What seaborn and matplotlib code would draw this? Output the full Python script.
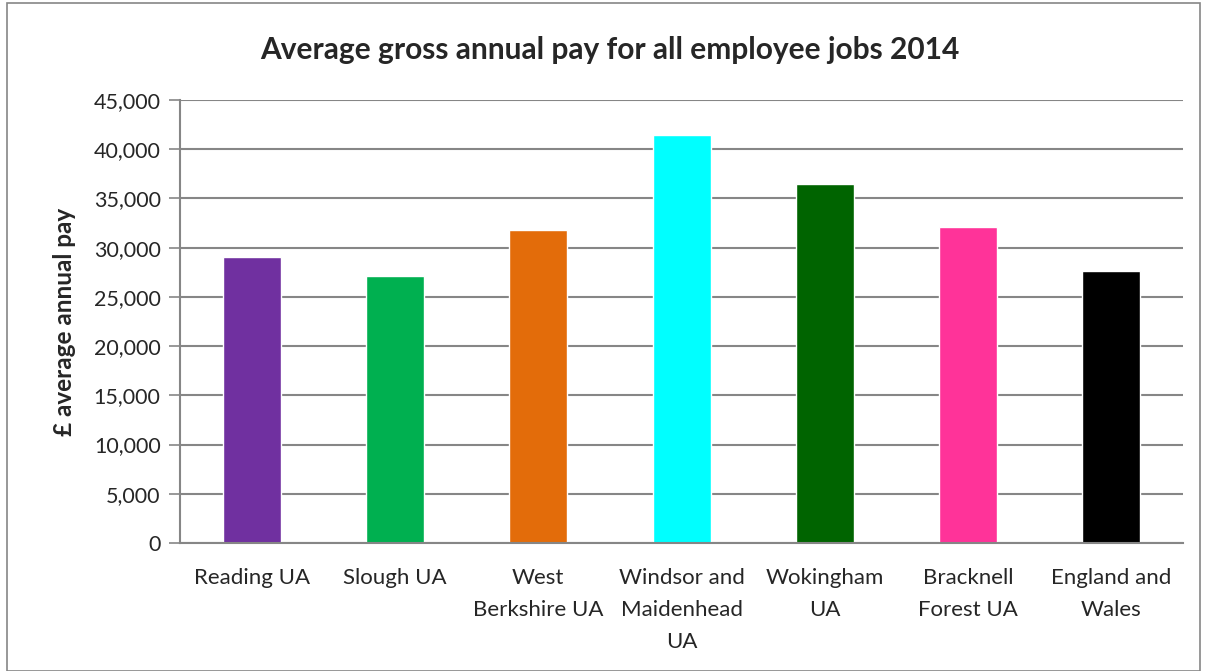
import matplotlib
matplotlib.use("Agg")
import matplotlib.pyplot as plt
from matplotlib.patches import Rectangle
from matplotlib.ticker import FuncFormatter, MultipleLocator
import numpy as np
import pandas as pd
import seaborn as sns

areas = ["Reading UA", "Slough UA", "West\nBerkshire UA", "Windsor and\nMaidenhead\nUA",
         "Wokingham\nUA", "Bracknell\nForest UA", "England and\nWales"]
pay = [29100, 27120, 31820, 41430, 36420, 32130, 27630]
colours = ["#7030A0", "#00B050", "#E36C0A", "#00FFFF", "#006400", "#FF3399", "#000000"]

df = pd.DataFrame({"area": areas, "pay": pay})

sns.set_style("white")
plt.rcParams["font.family"] = ["Lato", "DejaVu Sans"]

fig = plt.figure(figsize=(12.06, 6.71), dpi=100)
ax = fig.add_axes([0.1493, 0.1908, 0.8317, 0.6602])

sns.barplot(data=df, x="area", y="pay", hue="area", palette=colours,
            width=0.405, legend=False, ax=ax, saturation=1)

ax.set_ylim(0, 45000)
ax.set_xlim(-0.5, len(areas) - 0.5)
ax.yaxis.set_major_locator(MultipleLocator(5000))
ax.yaxis.set_major_formatter(FuncFormatter(lambda v, p: f"{int(v):,}"))
ax.yaxis.grid(True, color="#868686", lw=1.5)
ax.set_axisbelow(True)

for s in ["top", "right"]:
    ax.spines[s].set_visible(False)
for s in ["left", "bottom"]:
    ax.spines[s].set_color("#868686")
    ax.spines[s].set_linewidth(1.5)

# category boundary ticks on x
ax.set_xticks(np.arange(-0.5, len(areas), 1.0), minor=True)
ax.tick_params(axis="x", which="minor", length=8, width=1.2, color="#868686", direction="out")
ax.tick_params(axis="x", which="major", length=0, pad=18, labelsize=16)
ax.tick_params(axis="y", which="major", left=True, length=8, width=1.2, color="#868686",
               direction="out", labelsize=15.5, pad=6)

ax.set_xlabel("")
ax.set_ylabel("£ average annual pay", fontsize=17.5, fontweight="bold", labelpad=13)
for lbl in ax.get_xticklabels():
    lbl.set_linespacing(1.75)

fig.text(0.5 * (262 + 957) / 1206, 1 - 50 / 671, "Average gross annual pay for all employee jobs 2014",
         ha="center", va="center", fontsize=21.5, fontweight="bold")

fig.patches.append(Rectangle((7 / 1206, 0.0), 1193 / 1206, 0.995, transform=fig.transFigure,
                             fill=False, edgecolor="#868686", lw=1.2))

fig.savefig("out.png", dpi=100)
